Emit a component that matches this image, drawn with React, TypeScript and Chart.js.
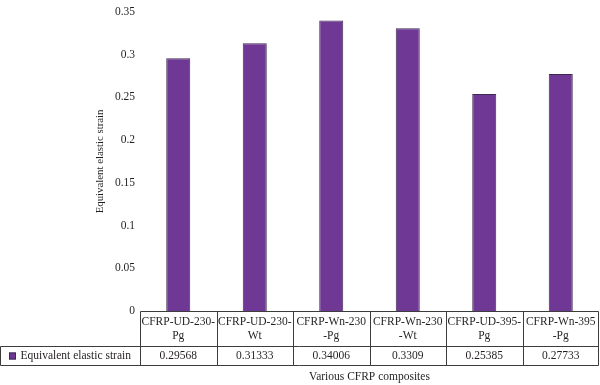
import React, { useEffect, useRef } from 'react';
import { Chart, registerables } from 'chart.js';

Chart.register(...registerables);

const categoryLines: string[][] = [
  ['CFRP-UD-230-', 'Pg'],
  ['CFRP-UD-230-', 'Wt'],
  ['CFRP-Wn-230', '-Pg'],
  ['CFRP-Wn-230', '-Wt'],
  ['CFRP-UD-395-', 'Pg'],
  ['CFRP-Wn-395', '-Pg'],
];
const categories = categoryLines.map((l) => l.join(''));
const seriesName = 'Equivalent elastic strain';
const values = [0.29568, 0.31333, 0.34006, 0.3309, 0.25385, 0.27733];
const valueLabels = ['0.29568', '0.31333', '0.34006', '0.3309', '0.25385', '0.27733'];
const yTickLabels = ['0', '0.05', '0.1', '0.15', '0.2', '0.25', '0.3', '0.35'];
const yTitle = 'Equivalent elastic strain';
const xTitle = 'Various CFRP composites';

const FONT = '"Liberation Serif", "DejaVu Serif", serif';
const TEXT = '#231f20';
const BAR = '#6f3895';
const BAR_BORDER = '#3d2b4f';
const LINE = '#3c3c3c';

const tablePlugin = {
  id: 'dataTable',
  afterDraw(chart: any) {
    const { ctx, chartArea } = chart;
    const xs = chart.scales.x;
    const n = categories.length;
    const colW = (chartArea.right - chartArea.left) / n;
    const top = Math.round(chartArea.bottom) + 0.5;
    const mid = top + 35;
    const bot = top + 54;
    const tableLeft = 0.5;
    const right = Math.round(chartArea.right) - 0.5;
    const bounds: number[] = [];
    for (let i = 0; i < n; i++) bounds.push(xs.getPixelForValue(i) - colW / 2);
    bounds.push(xs.getPixelForValue(n - 1) + colW / 2);

    ctx.save();
    ctx.strokeStyle = LINE;
    ctx.lineWidth = 1;
    ctx.beginPath();
    const l0 = Math.round(bounds[0]) + 0.5;
    ctx.moveTo(l0, top);
    ctx.lineTo(right, top);
    ctx.moveTo(tableLeft, mid);
    ctx.lineTo(right, mid);
    ctx.moveTo(tableLeft, bot);
    ctx.lineTo(right, bot);
    ctx.moveTo(tableLeft, mid);
    ctx.lineTo(tableLeft, bot);
    bounds.forEach((b, i) => {
      const bx = i === n ? right : Math.round(b) + 0.5;
      ctx.moveTo(bx, top);
      ctx.lineTo(bx, bot);
    });
    ctx.stroke();

    ctx.fillStyle = TEXT;
    ctx.font = `11.5px ${FONT}`;
    ctx.textAlign = 'center';
    ctx.textBaseline = 'middle';
    for (let i = 0; i < n; i++) {
      const cx = xs.getPixelForValue(i);
      const lines = categoryLines[i];
      ctx.fillText(lines[0], cx, top + 10.5);
      ctx.fillText(lines[1], cx, top + 24);
      ctx.fillText(valueLabels[i], cx, mid + 9.5);
    }

    // legend key
    ctx.fillStyle = BAR;
    ctx.fillRect(9, mid + 6, 7, 7);
    ctx.strokeStyle = BAR_BORDER;
    ctx.strokeRect(9.5, mid + 6.5, 6, 6);
    ctx.fillStyle = TEXT;
    ctx.textAlign = 'left';
    ctx.fillText(seriesName, 20.5, mid + 9.5);

    // x axis title
    ctx.textAlign = 'center';
    ctx.fillText(xTitle, (chartArea.left + chartArea.right) / 2, bot + 11);
    ctx.restore();
  },
};

export default function App() {
  const ref = useRef<HTMLCanvasElement | null>(null);
  useEffect(() => {
    document.body.style.margin = '0';
    const canvas = ref.current;
    if (!canvas) return;
    const chart = new Chart(canvas, {
      type: 'bar',
      data: {
        labels: categories,
        datasets: [
          {
            label: seriesName,
            data: values,
            backgroundColor: BAR,
            borderColor: BAR_BORDER,
            borderWidth: 1,
            categoryPercentage: 1,
            barPercentage: 0.314,
          },
        ],
      },
      options: {
        responsive: false,
        animation: false,
        devicePixelRatio: 1,
        layout: { padding: { left: 94, right: 1, top: 5, bottom: 74 } },
        plugins: { legend: { display: false }, tooltip: { enabled: false } },
        scales: {
          x: { display: false },
          y: {
            min: 0,
            max: 0.35,
            border: { display: false },
            grid: { display: false, drawTicks: false },
            afterFit: (scale: any) => {
              scale.width = 46;
            },
            ticks: {
              stepSize: 0.05,
              padding: 5,
              color: TEXT,
              font: { family: FONT, size: 11.5 },
              callback: (_v: any, i: number) => yTickLabels[i],
            },
            title: {
              display: true,
              text: yTitle,
              color: TEXT,
              padding: 0,
              font: { family: FONT, size: 10.8 },
            },
          },
        },
      },
      plugins: [tablePlugin],
    });
    return () => chart.destroy();
  }, []);
  return (
    <div style={{ width: 600, height: 385 }}>
      <canvas ref={ref} width={600} height={385} />
    </div>
  );
}
